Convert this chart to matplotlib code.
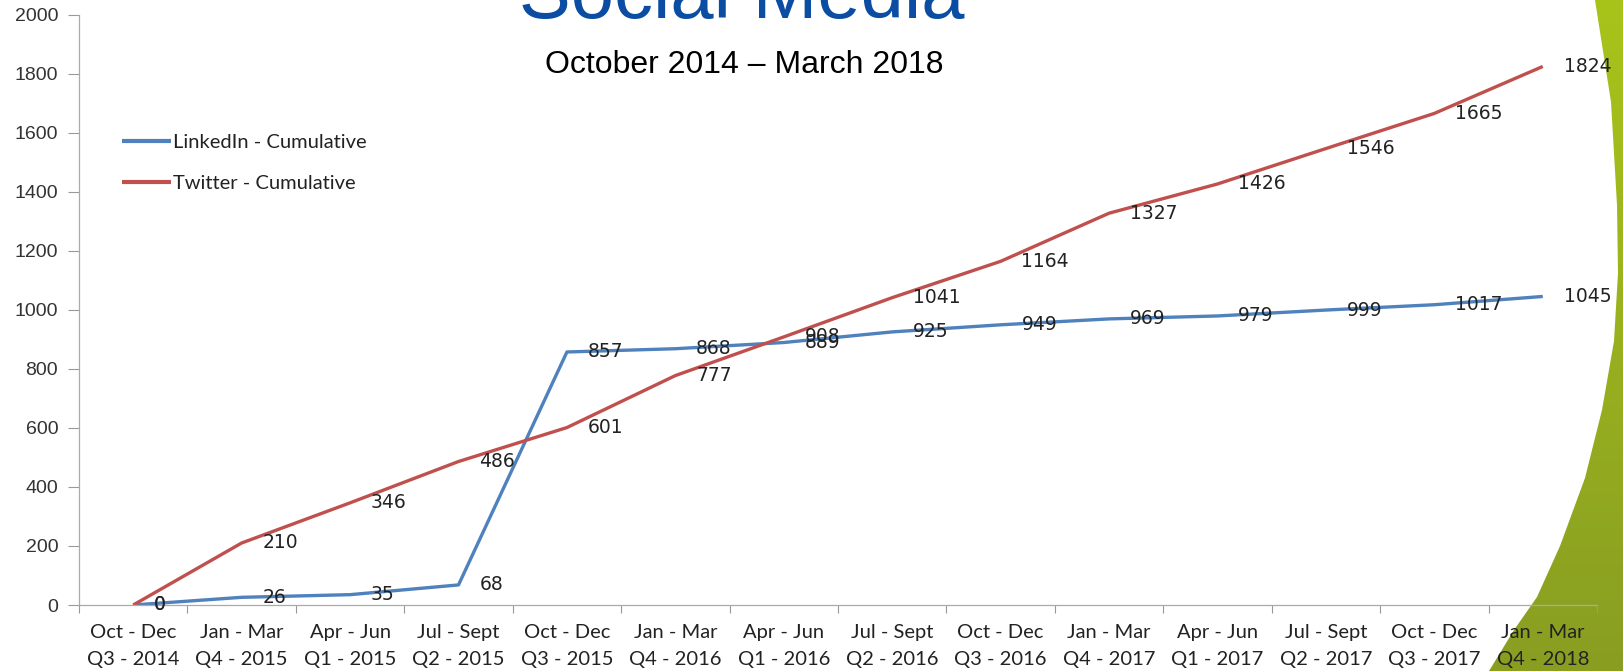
import numpy as np
import matplotlib
matplotlib.use("Agg")
import matplotlib.pyplot as plt
from matplotlib.patches import Polygon

# categories and values
periods = ["Oct - Dec", "Jan - Mar", "Apr - Jun", "Jul - Sept", "Oct - Dec", "Jan - Mar", "Apr - Jun",
           "Jul - Sept", "Oct - Dec", "Jan - Mar", "Apr - Jun", "Jul - Sept", "Oct - Dec", "Jan - Mar"]
quarters = ["Q3 - 2014", "Q4 - 2015", "Q1 - 2015", "Q2 - 2015", "Q3 - 2015", "Q4 - 2016", "Q1 - 2016",
            "Q2 - 2016", "Q3 - 2016", "Q4 - 2017", "Q1 - 2017", "Q2 - 2017", "Q3 - 2017", "Q4 - 2018"]
linkedin = [0, 26, 35, 68, 857, 868, 889, 925, 949, 969, 979, 999, 1017, 1045]
twitter = [0, 210, 346, 486, 601, 777, 908, 1041, 1164, 1327, 1426, 1546, 1665, 1824]

W, H = 1624, 671
fig = plt.figure(figsize=(W / 100, H / 100), dpi=100)

# green swoosh on the right edge of the slide (background decoration)
bg = fig.add_axes([0, 0, 1, 1], zorder=0)
bg.set_xlim(0, W)
bg.set_ylim(H, 0)
bg.axis("off")
edge = [(1595, 0), (1611, 102), (1617, 205), (1618, 273), (1614, 341), (1602, 410),
        (1585, 478), (1560, 546), (1537, 597), (1514, 630), (1489, 671)]
poly = Polygon(edge + [(W, H), (W, 0)], closed=True, facecolor="none", edgecolor="none")
bg.add_patch(poly)
top_c = np.array(matplotlib.colors.to_rgb("#a8c41a"))
bot_c = np.array(matplotlib.colors.to_rgb("#899e22"))
t = np.linspace(0, 1, 256)[:, None, None]
grad = top_c * (1 - t) + bot_c * t
grad = np.repeat(grad, 2, axis=1)
im = bg.imshow(grad, extent=(1480, W, H, 0), aspect="auto", zorder=0)
im.set_clip_path(poly)

# main chart
ax = fig.add_axes([79 / W, 66 / H, (1597 - 79) / W, (656.5 - 66) / H], zorder=1)
ax.patch.set_alpha(0)
x = np.arange(len(periods))
ax.plot(x, linkedin, color="#4f81bd", lw=2.4, label="LinkedIn - Cumulative", solid_capstyle="butt")
ax.plot(x, twitter, color="#c0504d", lw=2.4, label="Twitter - Cumulative", solid_capstyle="butt")

for xi, v in zip(x, linkedin):
    ax.annotate(str(v), (xi, v), xytext=(15, 0), textcoords="offset points",
                ha="left", va="center", fontsize=13.5, color="#222222", family="DejaVu Sans")
for xi, v in zip(x, twitter):
    ax.annotate(str(v), (xi, v), xytext=(15, 0), textcoords="offset points",
                ha="left", va="center", fontsize=13.5, color="#222222", family="DejaVu Sans")

ax.set_xlim(-0.5, len(periods) - 0.5)
ax.set_ylim(0, 2000)
ax.set_yticks(range(0, 2001, 200))
ax.tick_params(axis="y", direction="out", length=8, width=0.8, color="#999999", pad=7,
               labelsize=14, labelcolor="#333333")
for lab in ax.get_yticklabels():
    lab.set_family("Liberation Sans")

ax.set_xticks(x)
ax.set_xticklabels([p + "\n" + q for p, q in zip(periods, quarters)], family="Lato",
                   fontsize=14.5, color="#222222", linespacing=1.65)
ax.set_xticks(np.arange(-0.5, len(periods), 1), minor=True)
ax.tick_params(axis="x", which="major", length=0, pad=14)
ax.tick_params(axis="x", which="minor", direction="out", length=6, width=0.8, color="#999999")

for s in ["top", "right"]:
    ax.spines[s].set_visible(False)
for s in ["left", "bottom"]:
    ax.spines[s].set_color("#aaaaaa")
    ax.spines[s].set_linewidth(0.9)

leg = fig.legend(loc="upper left", bbox_to_anchor=(122 / W, 1 - 134 / H), frameon=False,
                 prop={"family": "Lato", "size": 14.5}, handlelength=2.44, handletextpad=0.1,
                 labelspacing=1.18, borderpad=0, borderaxespad=0)
for line in leg.get_lines():
    line.set_linewidth(3)
for txt in leg.get_texts():
    txt.set_color("#222222")

fig.text(742 / W, 1 - 18 / H, "Social Media", ha="center", va="baseline", fontsize=56,
         color="#0b4da2", family="Liberation Sans")
fig.text(744 / W, 1 - 73 / H, "October 2014 \u2013 March 2018", ha="center", va="baseline",
         fontsize=23, color="black", family="Liberation Sans")

fig.savefig("out.png", dpi=100)
